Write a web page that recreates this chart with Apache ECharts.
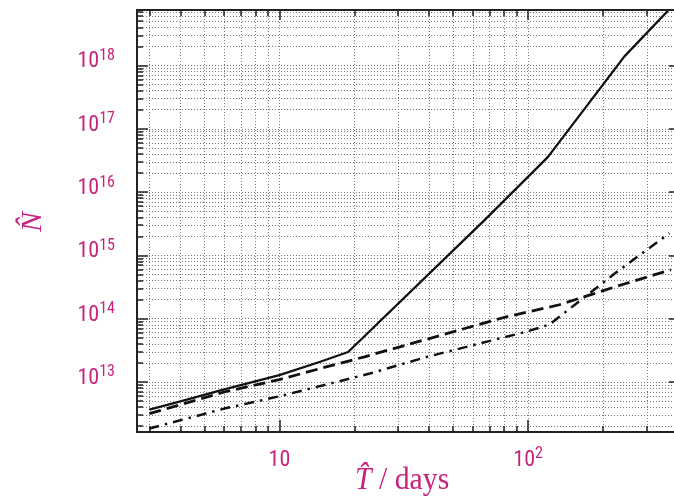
<!DOCTYPE html>
<html><head><meta charset="utf-8">
<script src="https://cdn.jsdelivr.net/npm/echarts@6/dist/echarts.min.js"></script>
<style>html,body{margin:0;padding:0;background:#fff}#c{width:674px;height:499px}</style>
</head><body><div id="c"></div>
<script>
// ---- data ----
const solidT = [3, 4, 6, 10, 14.5, 18.9, 66.8, 120, 244, 365];
const solidN = [3.66e12, 4.95e12, 7.67e12, 1.28e13, 2.07e13, 2.98e13, 3.6e15, 3.56e16, 1.39e18, 7.3e18];

const dashedT = [3, 6, 10, 14.5, 22, 81.6, 133.6, 181.6, 247, 375];
const dashedN = [3.16e12, 6.95e12, 1.09e13, 1.62e13, 2.5e13, 1.07e14, 1.66e14, 2.45e14, 3.6e14, 5.9e14];

const dashDotT = [3, 6, 10, 23.1, 39, 98, 122, 225, 370];
const dashDotN = [1.84e12, 3.8e12, 5.94e12, 1.36e13, 2.48e13, 6.2e13, 8.1e13, 5.3e14, 2.24e15];

// ---- axes ----
const xMajorTicks = [10, 100];
const yMajorTicks = [1e13, 1e14, 1e15, 1e16, 1e17, 1e18];
const xRange = [2.676, 386];
const yRange = [1.622e12, 7.52e18];
const xMinorTicks = [];
for (let d = 1; d <= 100; d *= 10) for (let m = 1; m <= 9; m++) { const v = m * d; if (v >= xRange[0] && v <= xRange[1]) xMinorTicks.push(v); }
const yMinorTicks = [];
for (let e = 12; e <= 18; e++) for (let m = 1; m <= 9; m++) { const v = m * Math.pow(10, e); if (v >= yRange[0] && v <= yRange[1]) yMinorTicks.push(v); }

const MAG = '#c8227f';
const LABEL_FONT = "'Liberation Sans Narrow','Roboto Condensed','DejaVu Sans Condensed','Liberation Sans',sans-serif";
const SERIF = "'Liberation Serif','DejaVu Serif',serif";

function pow10Label(v) {
  const e = Math.round(Math.log10(v));
  if (e === 1) return '{b|10}';
  return '{b|10}{s|' + e + '}';
}
const rich = {
  b: { fontSize: 22, fontFamily: LABEL_FONT, color: MAG, verticalAlign: 'bottom', lineHeight: 22 },
  s: { fontSize: 16, fontFamily: LABEL_FONT, color: MAG, verticalAlign: 'bottom', lineHeight: 16, padding: [0, 0, 9, 0] }
};
const lineAx = { show: true, lineStyle: { color: '#222', width: 2 } };
const gridLine = { show: true, lineStyle: { color: '#7a7a7a', width: 1, type: [1, 2] } };

function xAx(grid, pos, ticks, len, opts) {
  return Object.assign({
    type: 'log', gridIndex: grid, position: pos, min: xRange[0], max: xRange[1],
    axisLine: lineAx,
    axisTick: { show: true, inside: true, length: len, customValues: ticks, lineStyle: { color: '#222', width: 1.5 } },
    axisLabel: { show: false },
    splitLine: { show: false }
  }, opts || {});
}
function yAx(grid, pos, ticks, len, opts) {
  return Object.assign({
    type: 'log', gridIndex: grid, position: pos, min: yRange[0], max: yRange[1],
    axisLine: lineAx,
    axisTick: { show: true, inside: true, length: len, customValues: ticks, lineStyle: { color: '#222', width: 1.5 } },
    axisLabel: { show: false },
    splitLine: { show: false }
  }, opts || {});
}

const gridRect = { left: 137, top: 10, right: -1, bottom: 67 };
const chart = echarts.init(document.getElementById('c'), null, { renderer: 'canvas' });
chart.setOption({
  animation: false,
  backgroundColor: '#fff',
  grid: [Object.assign({}, gridRect), Object.assign({}, gridRect)],
  xAxis: [
    xAx(0, 'bottom', xMinorTicks, 6, { splitLine: gridLine }),
    xAx(0, 'top', xMinorTicks, 6),
    xAx(1, 'bottom', xMajorTicks, 12, {
      axisLabel: { show: true, customValues: xMajorTicks, margin: 17, formatter: pow10Label, rich: rich }
    }),
    xAx(1, 'top', xMajorTicks, 10)
  ],
  yAxis: [
    yAx(0, 'left', yMinorTicks, 6, { splitLine: gridLine }),
    yAx(0, 'right', yMajorTicks, 5, { axisLine: { show: false } }),
    yAx(1, 'left', yMajorTicks, 11, {
      axisLabel: { show: true, customValues: yMajorTicks, margin: 22, formatter: pow10Label, rich: rich, padding: [0, 0, 7, 0] }
    }),
    yAx(1, 'right', yMajorTicks, 5, { axisLine: { show: false } })
  ],
  series: [
    { type: 'line', xAxisIndex: 0, yAxisIndex: 0, symbol: 'none', data: solidT.map((t, i) => [t, solidN[i]]),
      lineStyle: { color: '#111', width: 2.3 } },
    { type: 'line', xAxisIndex: 0, yAxisIndex: 0, symbol: 'none', data: dashedT.map((t, i) => [t, dashedN[i]]),
      lineStyle: { color: '#111', width: 2.8, type: [12, 6] } },
    { type: 'line', xAxisIndex: 0, yAxisIndex: 0, symbol: 'none', data: dashDotT.map((t, i) => [t, dashDotN[i]]),
      lineStyle: { color: '#111', width: 2.5, type: [10, 6, 2.5, 6] } }
  ],
  graphic: [
    { type: 'text', x: 33, y: 222, rotation: Math.PI / 2,
      style: { text: 'N\u0302', font: 'italic 30px ' + SERIF, fill: MAG, align: 'center', verticalAlign: 'middle' } },
    { type: 'text', x: 355, y: 497, scaleX: 0.93,
      style: { text: '{i|T\u0302}{r| / days}', rich: {
        i: { fontFamily: SERIF, fontStyle: 'italic', fontSize: 32, fill: MAG },
        r: { fontFamily: SERIF, fontSize: 32, fill: MAG } }, fill: MAG, align: 'left', verticalAlign: 'bottom' } }
  ]
});
</script></body></html>
